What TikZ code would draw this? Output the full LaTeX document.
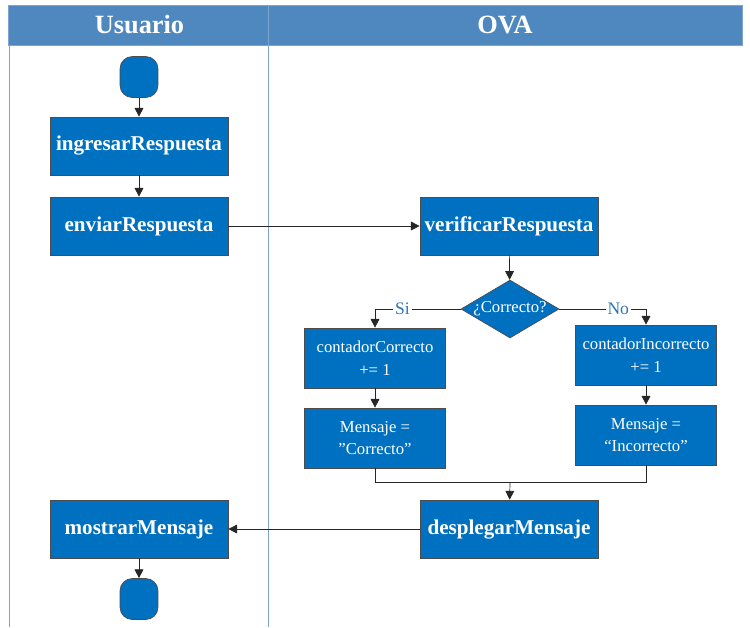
\documentclass[tikz,border=0pt]{standalone}
\usepackage{fontspec}
\setmainfont{Liberation Serif}
\usetikzlibrary{positioning,arrows.meta,shapes.geometric,calc}
\definecolor{ovablue}{HTML}{0070C0}
\definecolor{headblue}{HTML}{4F88BE}
\definecolor{laneline}{HTML}{7FA3CF}
\definecolor{labblue}{HTML}{2E75B6}
\begin{document}
\begin{tikzpicture}[x=0.02cm,y=-0.02cm,
  act/.style={rectangle,draw=black!70,fill=ovablue,text=white,font=\bfseries\fontsize{12}{14}\selectfont,minimum width=3.56cm,minimum height=1.16cm,inner sep=2pt},
  calcbox/.style={rectangle,draw=black!70,fill=ovablue,text=white,font=\rmfamily\fontsize{9.5}{13}\selectfont,minimum width=2.82cm,minimum height=1.2cm,align=center,inner sep=2pt},
  term/.style={rectangle,rounded corners=7pt,draw=black!70,fill=ovablue,minimum width=0.76cm,minimum height=0.82cm},
  cond/.style={diamond,draw=black!70,fill=ovablue,text=white,font=\rmfamily\fontsize{9.5}{12}\selectfont,minimum width=1.96cm,minimum height=1.16cm,inner sep=0pt,aspect=1.7},
  flow/.style={-{Triangle[length=5pt,width=5pt]},black!85},
  branchlab/.style={font=\rmfamily\fontsize{10}{12}\selectfont,text=labblue,fill=white,inner sep=1pt},
  lanehead/.style={font=\bfseries\fontsize{15}{18}\selectfont,text=white},
]
\useasboundingbox (0,0) rectangle (750,627);

% Swimlanes
\draw[fill=headblue,draw=laneline] (8,5) rectangle (742,45);
\draw[laneline] (268,5) -- (268,45);
\draw[laneline] (9,45) -- (9,627);
\draw[laneline] (268,45) -- (268,627);
\node[lanehead] (hUsr) at (139.5,25) {Usuario};
\node[lanehead] (hOva) at (505,25) {OVA};

% Usuario lane
\node[term] (inicio) at (139,77) {};
\node[act] (ingresar) at (139,146) {ingresarRespuesta};
\node[act] (enviar) at (139,226) {enviarRespuesta};
\node[act] (mostrar) at (139,529) {mostrarMensaje};
\node[term] (fin) at (139,599) {};

% OVA lane
\node[act] (verificar) at (509,226) {verificarRespuesta};
\node[cond] (correcto) at (510,309) {¿Correcto?};
\node[calcbox] (contC) at (375,358) {contadorCorrecto\\+= 1};
\node[calcbox] (msgC) at (375,438) {Mensaje =\\"Correcto"};
\node[calcbox] (contI) at (646,355) {contadorIncorrecto\\+= 1};
\node[calcbox] (msgI) at (646,435) {Mensaje =\\“Incorrecto”};
\node[act] (desplegar) at (509,529) {desplegarMensaje};
\coordinate (union) at (510,482);

% Flujo
\draw[flow] (inicio) -- (ingresar);
\draw[flow] (ingresar) -- (enviar);
\draw[flow] (enviar) -- (verificar);
\draw[flow] (verificar) -- (correcto);
\draw[flow] (correcto.west) -| node[branchlab,pos=0.34] {Si} (contC.north);
\draw[flow] (correcto.east) -| node[branchlab,pos=0.34] {No} (contI.north);
\draw[flow] (contC) -- (msgC);
\draw[flow] (contI) -- (msgI);
\draw[black!85] (msgC.south) |- (union) -| (msgI.south);
\draw[flow] (union) -- (desplegar);
\draw[flow] (desplegar) -- (mostrar);
\draw[flow] (mostrar) -- (fin);
\end{tikzpicture}
\end{document}
